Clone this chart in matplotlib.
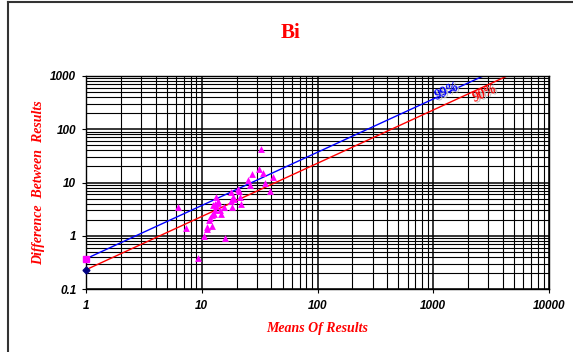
import numpy as np
import matplotlib
matplotlib.use("Agg")
import matplotlib.pyplot as plt
from matplotlib.lines import Line2D
from matplotlib.ticker import LogLocator, NullFormatter, FixedFormatter, FixedLocator

# data
means = [32.5, 6.27, 7.26, 9.22, 10.4, 15.8, 11.0, 11.2, 12.3, 11.6,
         11.8, 12.3, 12.8, 13.0, 12.6, 13.2, 13.7, 13.4, 14.3, 14.6,
         13.9, 15.6, 18.1, 17.9, 17.9, 18.7, 19.0, 20.4, 21.0, 21.6,
         22.0, 24.9, 26.1, 27.3, 31.3, 33.6, 35.2, 38.9, 41.1, 12.9]
diffs = [42.4, 3.5, 1.38, 0.377, 1.01, 0.89, 1.34, 1.47, 1.5, 1.98,
         2.2, 2.45, 2.6, 3.0, 3.75, 5.4, 4.5, 3.6, 3.0, 2.6,
         4.2, 3.4, 3.4, 4.4, 6.7, 5.4, 4.9, 7.7, 6.9, 5.4,
         3.9, 11.1, 8.95, 14.2, 17.8, 15.2, 10.0, 6.9, 12.9, 4.0]

line_x = [1, 10000]
limit_99 = 0.37   # difference at mean = 1
limit_90 = 0.23

x_ticks = [1, 10, 100, 1000, 10000]
y_ticks = [0.1, 1, 10, 100, 1000]

fig = plt.figure(figsize=(5.73, 3.52), dpi=100)
ax = fig.add_axes([86 / 573, 63 / 352, 463 / 573, 213 / 352])
ax.set_xscale("log")
ax.set_yscale("log")
ax.set_xlim(1, 10000)
ax.set_ylim(0.1, 1000)

ax.xaxis.set_major_locator(FixedLocator(x_ticks))
ax.xaxis.set_major_formatter(FixedFormatter([str(v) for v in x_ticks]))
ax.yaxis.set_major_locator(FixedLocator(y_ticks))
ax.yaxis.set_major_formatter(FixedFormatter([str(v) for v in y_ticks]))
ax.xaxis.set_minor_locator(LogLocator(base=10, subs=np.arange(2, 10), numticks=20))
ax.yaxis.set_minor_locator(LogLocator(base=10, subs=np.arange(2, 10), numticks=20))
ax.xaxis.set_minor_formatter(NullFormatter())
ax.yaxis.set_minor_formatter(NullFormatter())

ax.grid(which="major", color="black", linewidth=1.1)
ax.grid(which="minor", color="black", linewidth=0.8)
ax.set_axisbelow(True)
ax.tick_params(which="minor", length=0)
ax.tick_params(which="major", length=3, width=0.8, direction="out")
ax.tick_params(axis="x", pad=5)
ax.tick_params(axis="y", pad=4)
for lab in ax.get_xticklabels() + ax.get_yticklabels():
    lab.set_fontfamily("Liberation Sans")
    lab.set_fontweight("bold")
    lab.set_fontstyle("italic")
    lab.set_fontsize(8.5)
for side in ["left", "bottom", "right", "top"]:
    ax.spines[side].set_color("black")
    ax.spines[side].set_linewidth(1.0)

lx = np.array(line_x, dtype=float)
ax.plot(lx, limit_99 * lx, color="blue", linewidth=1.0)
ax.plot(lx, limit_90 * lx, color="red", linewidth=1.0)
ax.scatter(means, diffs, marker="^", s=24, color="#ff00ff", zorder=3, linewidths=0)
ax.plot([1], [limit_99], marker="s", color="#ff00ff", markersize=5, clip_on=False, zorder=4)
ax.plot([1], [limit_90], marker="D", color="#000080", markersize=3.5, clip_on=False, zorder=4)

label_font = dict(family="Liberation Serif", weight="bold", style="italic", size=10)
ax.text(1360, 500, "99%", color="#bbbbbb", rotation=24.7, ha="center", va="center",
        fontdict=label_font)
ax.text(1300, 520, "99%", color="blue", rotation=24.7, ha="center", va="center",
        fontdict=label_font)
ax.text(2900, 440, "90%", color="#bbbbbb", rotation=24.7, ha="center", va="center",
        fontdict=label_font)
ax.text(2790, 470, "90%", color="red", rotation=24.7, ha="center", va="center",
        fontdict=label_font)

fig.text(291 / 573, 1 - 33 / 352, "Bi", color="red", ha="center", va="center",
         family="Liberation Serif", weight="bold", size=15)
ax.set_xlabel("Means Of Results", color="red", family="Liberation Serif",
              weight="bold", style="italic", size=10, labelpad=7)
ax.set_ylabel("Difference  Between  Results", color="red", family="Liberation Serif",
              weight="bold", style="italic", size=10, labelpad=4)

fig.add_artist(Line2D([8 / 573, 8 / 573], [0, 1 - 1.5 / 352], transform=fig.transFigure,
                      color="#333333", linewidth=1.5))
fig.add_artist(Line2D([8 / 573, 1], [1 - 1.5 / 352, 1 - 1.5 / 352], transform=fig.transFigure,
                      color="#333333", linewidth=1.5))

fig.savefig("out.png", dpi=100)
